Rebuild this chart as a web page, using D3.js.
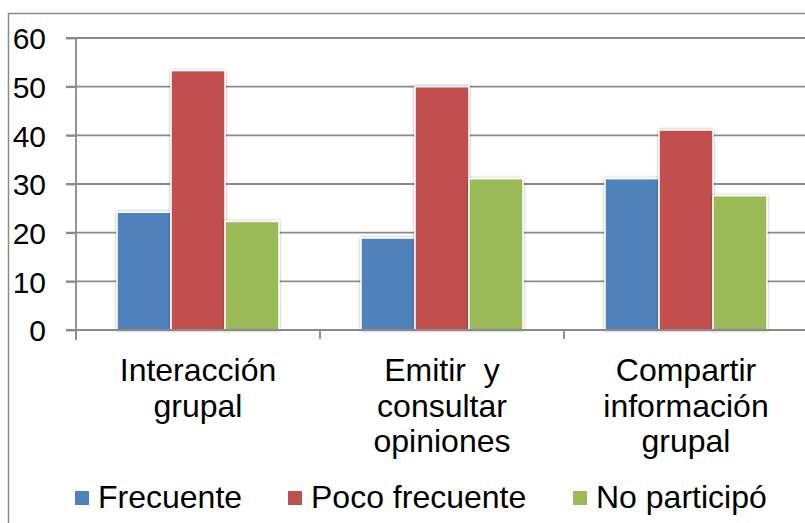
<!DOCTYPE html>
<html>
<head>
<meta charset="utf-8">
<script src="https://cdn.jsdelivr.net/npm/d3@7"></script>
<style>
  body { margin: 0; background: #fff; }
  svg { display: block; font-family: "Liberation Sans", Arial, sans-serif; }
</style>
</head>
<body>
<div id="chart"></div>
<script>
// data
var categories = [["Interacción", "grupal"], ["Emitir  y", "consultar", "opiniones"], ["Compartir", "información", "grupal"]];
var seriesNames = ["Frecuente", "Poco frecuente", "No participó"];
var frecuente = [24.2, 18.9, 31.1];
var pocoFrecuente = [53.3, 50.0, 41.1];
var noParticipo = [22.3, 31.1, 27.6];
var yTicks = [0, 10, 20, 30, 40, 50, 60];
var colors = ["#4F81BD", "#C0504D", "#9BBB59"];

var svgWidth = 805, svgHeight = 523;
var plot = { left: 76, right: 808, top: 38, bottom: 330 };

var svg = d3.select("#chart").append("svg")
    .attr("width", svgWidth)
    .attr("height", svgHeight);

var defs = svg.append("defs");
var f = defs.append("filter").attr("id", "shadow")
    .attr("x", "-20%").attr("y", "-10%").attr("width", "140%").attr("height", "120%");
f.append("feGaussianBlur").attr("in", "SourceAlpha").attr("stdDeviation", 1.5);
f.append("feOffset").attr("dx", 0).attr("dy", 0).attr("result", "blur");
f.append("feComponentTransfer").append("feFuncA").attr("type", "linear").attr("slope", 0.35);
var merge = f.append("feMerge");
merge.append("feMergeNode");
merge.append("feMergeNode").attr("in", "SourceGraphic");

// outer chart border (cut by the picture edge)
svg.append("rect")
    .attr("x", 8.5).attr("y", 13.5)
    .attr("width", 900).attr("height", 600)
    .attr("fill", "none")
    .attr("stroke", "#8a8a8a")
    .attr("stroke-width", 1.5);

var y = d3.scaleLinear().domain([0, 60]).range([plot.bottom, plot.top]);

var catIdx = categories.map(function (d, i) { return i; });
var x0 = d3.scaleBand().domain(catIdx).range([plot.left, plot.right]).padding(0);
var x1 = d3.scaleBand().domain(d3.range(seriesNames.length))
    .range([0, x0.bandwidth()]).paddingInner(0).paddingOuter(0.76);

// gridlines
svg.append("g").selectAll("line")
    .data(yTicks.filter(function (d) { return d > 0; }))
    .enter().append("line")
    .attr("x1", plot.left - 10).attr("x2", svgWidth + 5)
    .attr("y1", function (d) { return y(d); })
    .attr("y2", function (d) { return y(d); })
    .attr("stroke", "#8a8a8a")
    .attr("stroke-width", 1.8);

// bars
var allSeries = [frecuente, pocoFrecuente, noParticipo];
var groups = svg.append("g").selectAll("g")
    .data(catIdx)
    .enter().append("g")
    .attr("transform", function (i) { return "translate(" + x0(i) + ",0)"; });

groups.selectAll("rect")
    .data(function (i) { return allSeries.map(function (s, k) { return { k: k, v: s[i] }; }); })
    .enter().append("rect")
    .attr("x", function (d) { return x1(d.k); })
    .attr("width", x1.bandwidth())
    .attr("y", function (d) { return y(d.v); })
    .attr("height", function (d) { return y(0) - y(d.v); })
    .attr("fill", function (d) { return colors[d.k]; })
    .attr("stroke", "#fff")
    .attr("stroke-width", 1.5)
    .attr("filter", "url(#shadow)");

// y axis
var yAxis = svg.append("g")
    .attr("transform", "translate(" + plot.left + ",0)")
    .call(d3.axisLeft(y).tickValues(yTicks).tickSize(10).tickPadding(20));
yAxis.select(".domain").attr("stroke", "#8a8a8a").attr("stroke-width", 1.8)
    .attr("d", "M0," + (plot.top) + "V" + (plot.bottom + 10));
yAxis.selectAll(".tick line").attr("stroke", "#8a8a8a").attr("stroke-width", 1.8);
yAxis.selectAll(".tick text")
    .attr("fill", "#000")
    .style("font-size", "30px")
    .attr("dy", "0.36em");

// x axis baseline and ticks
svg.append("line")
    .attr("x1", plot.left - 10).attr("x2", svgWidth + 5)
    .attr("y1", y(0)).attr("y2", y(0))
    .attr("stroke", "#8a8a8a").attr("stroke-width", 1.8);
svg.append("g").selectAll("line")
    .data(catIdx)
    .enter().append("line")
    .attr("x1", function (i) { return x0(i); })
    .attr("x2", function (i) { return x0(i); })
    .attr("y1", y(0)).attr("y2", y(0) + 9)
    .attr("stroke", "#8a8a8a").attr("stroke-width", 1.8);

// category labels
var labels = svg.append("g").selectAll("text")
    .data(catIdx)
    .enter().append("text")
    .attr("text-anchor", "middle")
    .attr("fill", "#000")
    .style("font-size", "32px")
    .style("white-space", "pre")
    .attr("xml:space", "preserve");
labels.each(function (i) {
    var t = d3.select(this);
    categories[i].forEach(function (line, j) {
        t.append("tspan")
            .attr("x", x0(i) + x0.bandwidth() / 2)
            .attr("y", 381 + j * 35.5)
            .text(line);
    });
});

// legend
var legendX = [75, 288, 573];
var leg = svg.append("g").selectAll("g")
    .data(seriesNames)
    .enter().append("g")
    .attr("transform", function (d, i) { return "translate(" + legendX[i] + ",491)"; });
leg.append("rect")
    .attr("width", 14).attr("height", 14)
    .attr("fill", function (d, i) { return colors[i]; });
leg.append("text")
    .attr("x", 23).attr("y", 17)
    .attr("fill", "#000")
    .style("font-size", "32px")
    .text(function (d) { return d; });
</script>
</body>
</html>
